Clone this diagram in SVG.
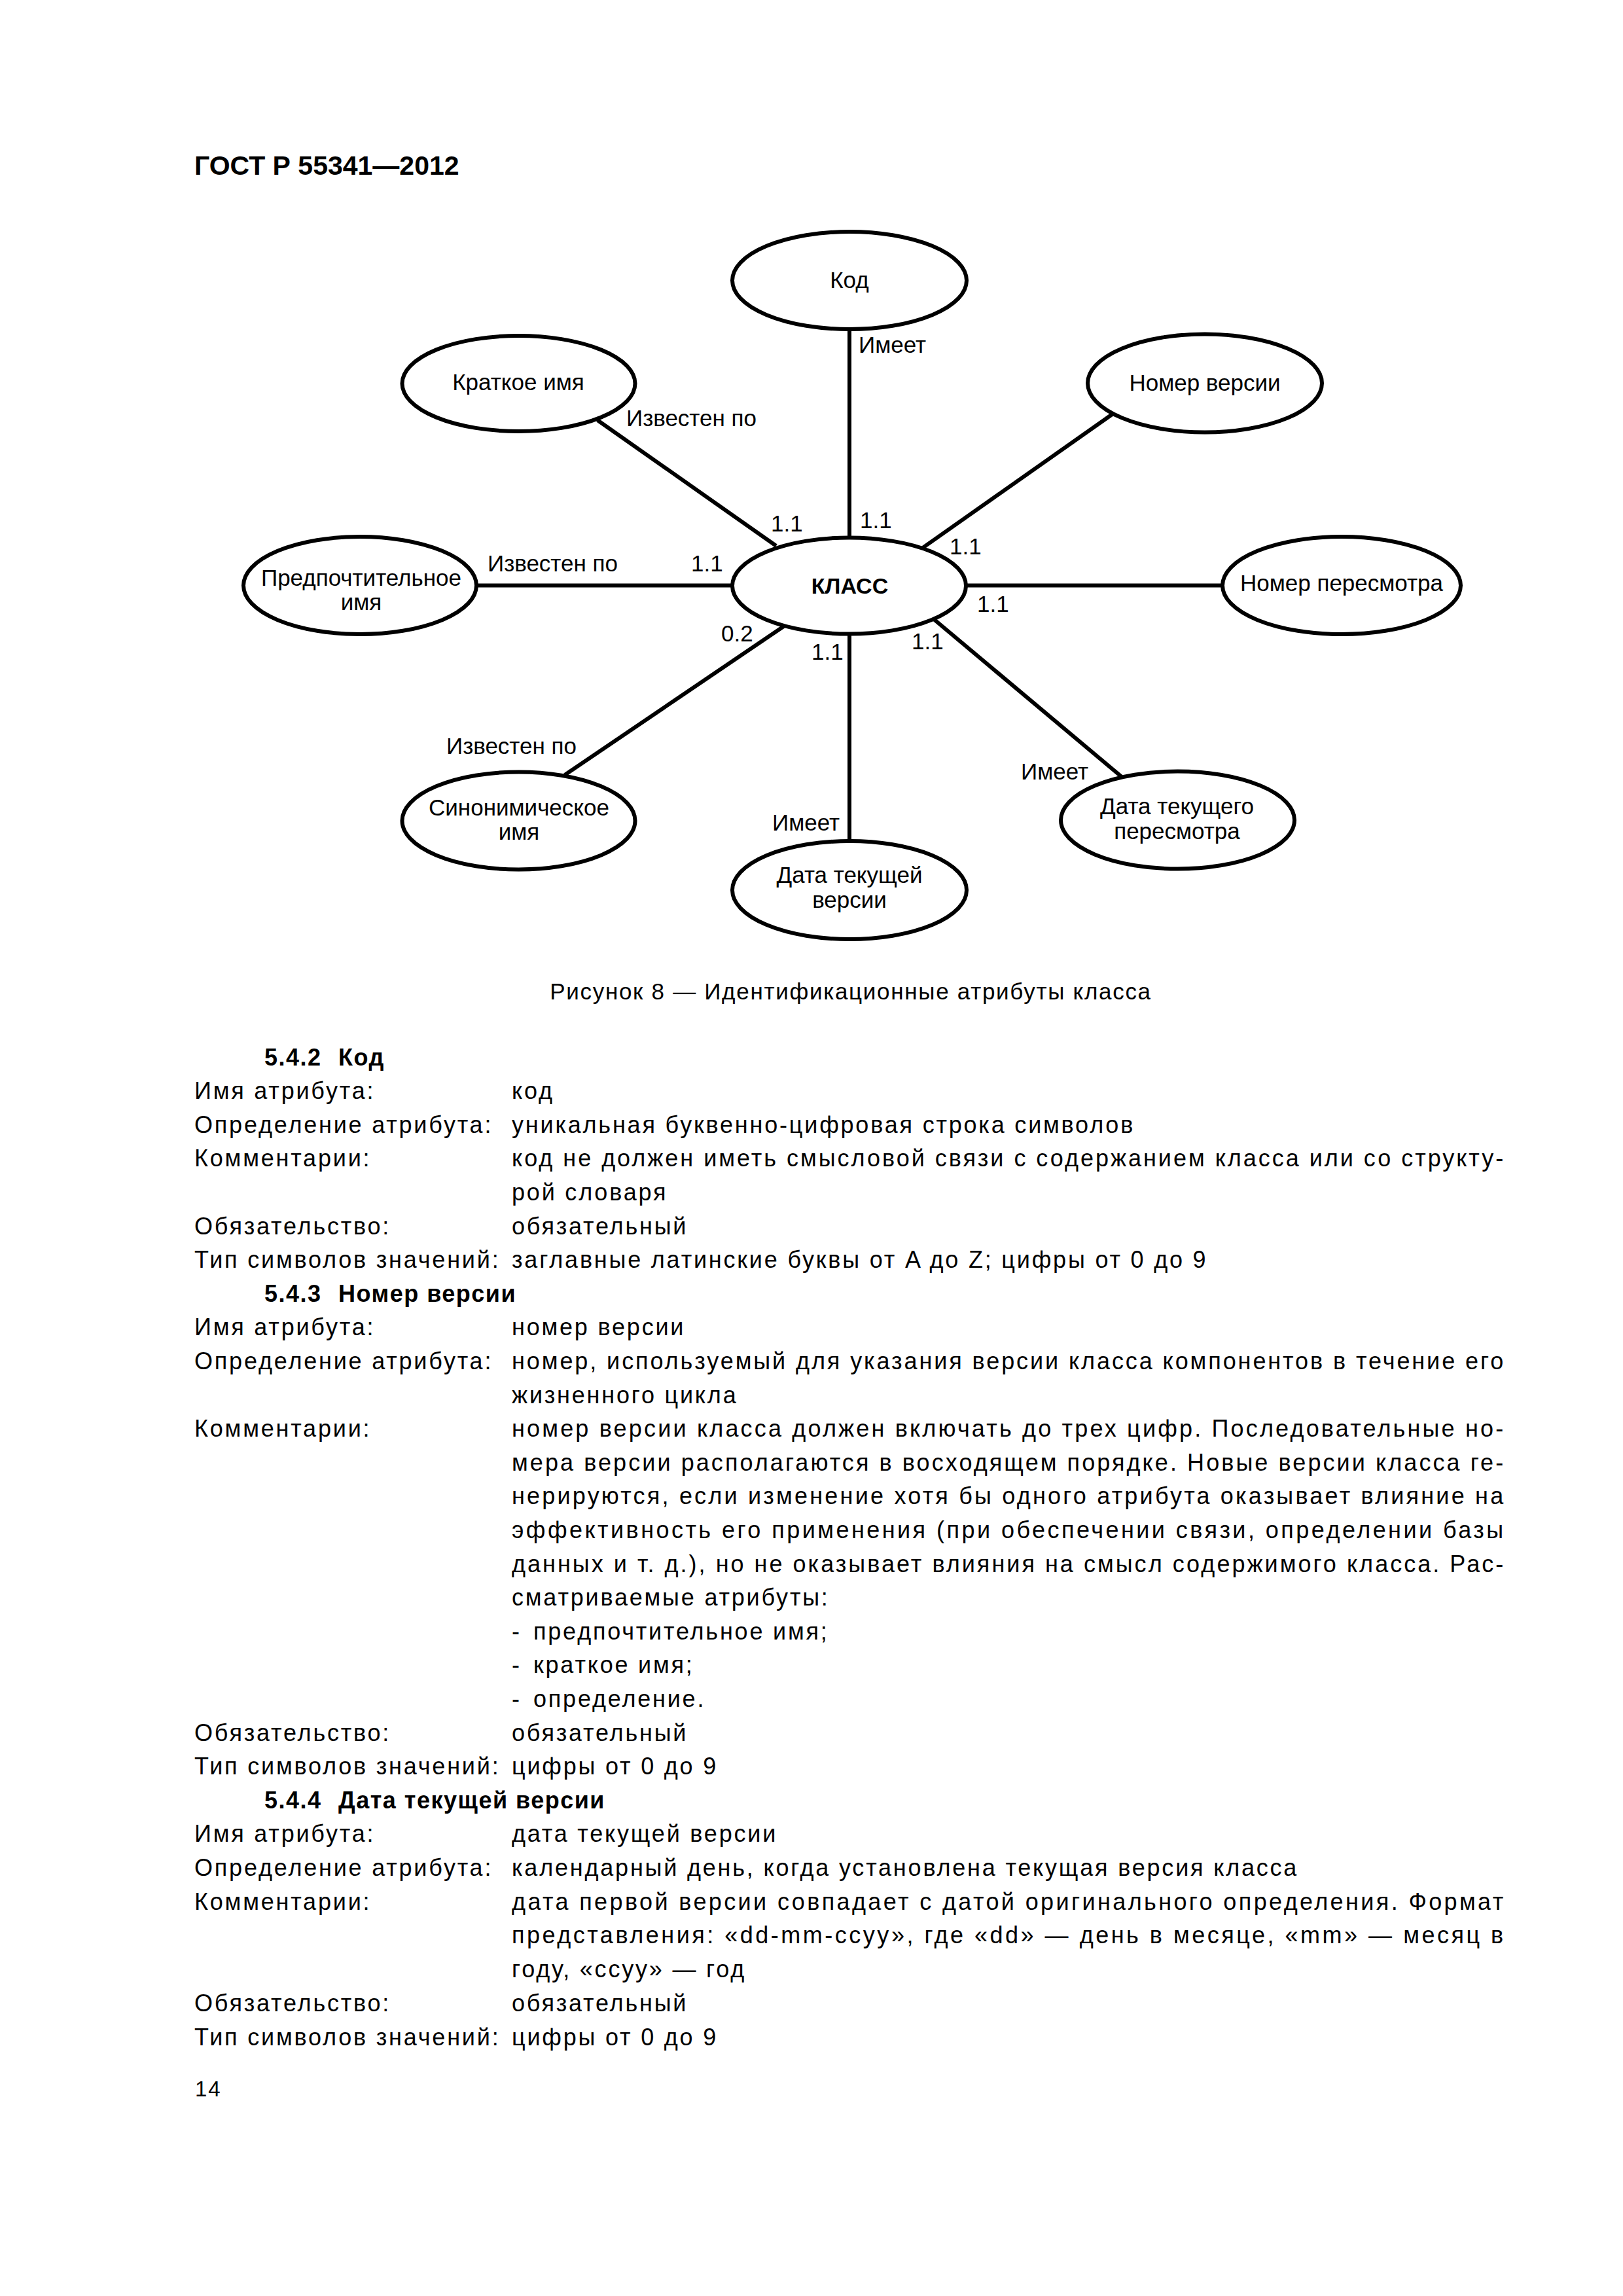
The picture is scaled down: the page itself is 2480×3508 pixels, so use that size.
<svg xmlns="http://www.w3.org/2000/svg" width="2480" height="3508" viewBox="0 0 2480 3508">
<style>
text { font-family: "Liberation Sans", Arial, sans-serif; fill: #000; }
.n ellipse { fill: #fff; stroke: #000; stroke-width: 6; }
.n text { font-size: 35px; text-anchor: middle; }
.conn line { stroke: #000; stroke-width: 6; }
.lbl { font-size: 35px; }
.hdr { font-size: 41px; font-weight: bold; }
.cap { font-size: 35px; letter-spacing: 1.7px; text-anchor: middle; }
.body { font-size: 36px; letter-spacing: 2.8px; }
.h { font-size: 36px; font-weight: bold; letter-spacing: 1.5px; }
</style>
<rect width="2480" height="3508" fill="#fff"/>

<text class="hdr" x="297" y="267">ГОСТ Р 55341—2012</text>

<g id="connectors" class="conn">
  <line x1="913" y1="642" x2="1186" y2="834"/>
  <line x1="1298" y1="503" x2="1298" y2="822"/>
  <line x1="1699.5" y1="633" x2="1409" y2="837.6"/>
  <line x1="728" y1="894.5" x2="1119" y2="894.5"/>
  <line x1="1476" y1="894.5" x2="1868" y2="894.5"/>
  <line x1="1199" y1="956" x2="863" y2="1184"/>
  <line x1="1298" y1="968.5" x2="1298" y2="1285"/>
  <line x1="1428" y1="947" x2="1713.5" y2="1186.5"/>
</g>

<g id="conn-labels" class="lbl">
  <text x="957" y="651">Известен по</text>
  <text x="1312" y="539">Имеет</text>
  <text x="1178" y="812">1.1</text>
  <text x="1314" y="807">1.1</text>
  <text x="1451" y="847">1.1</text>
  <text x="745" y="873">Известен по</text>
  <text x="1056" y="873">1.1</text>
  <text x="1493" y="935">1.1</text>
  <text x="1102" y="980">0.2</text>
  <text x="1240" y="1008">1.1</text>
  <text x="1393" y="992">1.1</text>
  <text x="682" y="1152">Известен по</text>
  <text x="1180" y="1269">Имеет</text>
  <text x="1560" y="1191">Имеет</text>
</g>

<g id="node-kod" class="n">
  <ellipse cx="1298" cy="428.5" rx="179" ry="74.5"/>
  <text x="1298" y="440">Код</text>
</g>
<g id="node-kratkoe" class="n">
  <ellipse cx="792.5" cy="586" rx="178" ry="73"/>
  <text x="792" y="596">Краткое имя</text>
</g>
<g id="node-nomer-versii" class="n">
  <ellipse cx="1841" cy="585.5" rx="179" ry="75"/>
  <text x="1841" y="596.5">Номер версии</text>
</g>
<g id="node-predpocht" class="n">
  <ellipse cx="550" cy="894.5" rx="178" ry="74.5"/>
  <text x="552" y="894.5">Предпочтительное</text>
  <text x="552" y="932">имя</text>
</g>
<g id="node-klass" class="n">
  <ellipse cx="1297.5" cy="895" rx="178.5" ry="73.5"/>
  <text x="1298.5" y="907" style="font-weight:bold;font-size:34px">КЛАСС</text>
</g>
<g id="node-nomer-peresmotra" class="n">
  <ellipse cx="2050" cy="894.5" rx="182" ry="74.5"/>
  <text x="2050" y="903">Номер пересмотра</text>
</g>
<g id="node-sinonim" class="n">
  <ellipse cx="792.5" cy="1254" rx="178" ry="74.5"/>
  <text x="793" y="1245.5">Синонимическое</text>
  <text x="793" y="1283">имя</text>
</g>
<g id="node-data-versii" class="n">
  <ellipse cx="1298" cy="1360" rx="179" ry="75"/>
  <text x="1298" y="1348.5">Дата текущей</text>
  <text x="1298" y="1387">версии</text>
</g>
<g id="node-data-peresmotra" class="n">
  <ellipse cx="1799.5" cy="1253" rx="178.5" ry="74.5"/>
  <text x="1798.5" y="1243.5">Дата текущего</text>
  <text x="1798.5" y="1281.5">пересмотра</text>
</g>

<text class="cap" x="1300" y="1527">Рисунок 8 — Идентификационные атрибуты класса</text>

<g id="body">
  <text class="h" x="404" y="1627.5">5.4.2<tspan x="517">Код</tspan></text>
  <text class="body" x="297" y="1679.1">Имя атрибута:</text>
  <text class="body" x="782" y="1679.1">код</text>
  <text class="body" x="297" y="1730.7">Определение атрибута:</text>
  <text class="body" x="782" y="1730.7">уникальная буквенно-цифровая строка символов</text>
  <text class="body" x="297" y="1782.3">Комментарии:</text>
  <text class="body" x="782" y="1782.3" textLength="1518" lengthAdjust="spacing">код не должен иметь смысловой связи с содержанием класса или со структу-</text>
  <text class="body" x="782" y="1833.9">рой словаря</text>
  <text class="body" x="297" y="1885.5">Обязательство:</text>
  <text class="body" x="782" y="1885.5">обязательный</text>
  <text class="body" x="297" y="1937.1">Тип символов значений:</text>
  <text class="body" x="782" y="1937.1">заглавные латинские буквы от A до Z; цифры от 0 до 9</text>

  <text class="h" x="404" y="1988.7">5.4.3<tspan x="517">Номер версии</tspan></text>
  <text class="body" x="297" y="2040.3">Имя атрибута:</text>
  <text class="body" x="782" y="2040.3">номер версии</text>
  <text class="body" x="297" y="2091.9">Определение атрибута:</text>
  <text class="body" x="782" y="2091.9" textLength="1518" lengthAdjust="spacing">номер, используемый для указания версии класса компонентов в течение его</text>
  <text class="body" x="782" y="2143.5">жизненного цикла</text>
  <text class="body" x="297" y="2195.1">Комментарии:</text>
  <text class="body" x="782" y="2195.1" textLength="1518" lengthAdjust="spacing">номер версии класса должен включать до трех цифр. Последовательные но-</text>
  <text class="body" x="782" y="2246.7" textLength="1518" lengthAdjust="spacing">мера версии располагаются в восходящем порядке. Новые версии класса ге-</text>
  <text class="body" x="782" y="2298.3" textLength="1518" lengthAdjust="spacing">нерируются, если изменение хотя бы одного атрибута оказывает влияние на</text>
  <text class="body" x="782" y="2349.9" textLength="1518" lengthAdjust="spacing">эффективность его применения (при обеспечении связи, определении базы</text>
  <text class="body" x="782" y="2401.5" textLength="1518" lengthAdjust="spacing">данных и т. д.), но не оказывает влияния на смысл содержимого класса. Рас-</text>
  <text class="body" x="782" y="2453.1">сматриваемые атрибуты:</text>
  <text class="body" x="782" y="2504.7">-<tspan x="815">предпочтительное имя;</tspan></text>
  <text class="body" x="782" y="2556.3">-<tspan x="815">краткое имя;</tspan></text>
  <text class="body" x="782" y="2607.9">-<tspan x="815">определение.</tspan></text>
  <text class="body" x="297" y="2659.5">Обязательство:</text>
  <text class="body" x="782" y="2659.5">обязательный</text>
  <text class="body" x="297" y="2711.1">Тип символов значений:</text>
  <text class="body" x="782" y="2711.1">цифры от 0 до 9</text>

  <text class="h" x="404" y="2762.7">5.4.4<tspan x="517">Дата текущей версии</tspan></text>
  <text class="body" x="297" y="2814.3">Имя атрибута:</text>
  <text class="body" x="782" y="2814.3">дата текущей версии</text>
  <text class="body" x="297" y="2865.9">Определение атрибута:</text>
  <text class="body" x="782" y="2865.9">календарный день, когда установлена текущая версия класса</text>
  <text class="body" x="297" y="2917.5">Комментарии:</text>
  <text class="body" x="782" y="2917.5" textLength="1518" lengthAdjust="spacing">дата первой версии совпадает с датой оригинального определения. Формат</text>
  <text class="body" x="782" y="2969.1" textLength="1518" lengthAdjust="spacing">представления: «dd-mm-ccyy», где «dd» — день в месяце, «mm» — месяц в</text>
  <text class="body" x="782" y="3020.7">году, «ccyy» — год</text>
  <text class="body" x="297" y="3072.5">Обязательство:</text>
  <text class="body" x="782" y="3072.5">обязательный</text>
  <text class="body" x="297" y="3125">Тип символов значений:</text>
  <text class="body" x="782" y="3125">цифры от 0 до 9</text>

  <text class="body" x="298" y="3203" style="font-size:33px;letter-spacing:2px">14</text>
</g>
</svg>
